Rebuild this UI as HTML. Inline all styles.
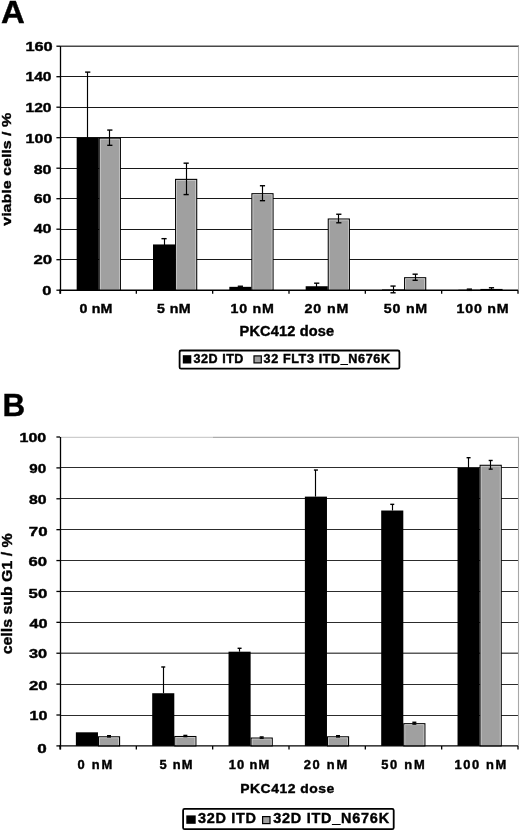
<!DOCTYPE html>
<html><head><meta charset="utf-8"><style>
html,body{margin:0;padding:0;background:#fff;}
body{width:520px;height:831px;overflow:hidden;}
svg{display:block;font-family:"Liberation Sans", sans-serif;}
text{stroke:#000;stroke-width:0.4px;paint-order:stroke;}
svg{filter:grayscale(1);}
</style></head><body>
<svg width="520" height="831" viewBox="0 0 520 831">
<rect width="520" height="831" fill="#fff"/>
<line x1="60" y1="259.5" x2="518" y2="259.5" stroke="#181818" stroke-width="1.15"/>
<line x1="60" y1="229.5" x2="518" y2="229.5" stroke="#181818" stroke-width="1.15"/>
<line x1="60" y1="198.5" x2="518" y2="198.5" stroke="#181818" stroke-width="1.15"/>
<line x1="60" y1="168.5" x2="518" y2="168.5" stroke="#181818" stroke-width="1.15"/>
<line x1="60" y1="137.5" x2="518" y2="137.5" stroke="#181818" stroke-width="1.15"/>
<line x1="60" y1="107.5" x2="518" y2="107.5" stroke="#181818" stroke-width="1.15"/>
<line x1="60" y1="76.5" x2="518" y2="76.5" stroke="#181818" stroke-width="1.15"/>
<line x1="60" y1="46.3" x2="519" y2="46.3" stroke="#484848" stroke-width="1.4"/>
<line x1="518.5" y1="46.3" x2="518.5" y2="290.2" stroke="#b4b4b4" stroke-width="1.1"/>
<rect x="76.67" y="137.7" width="22.1" height="152.5" fill="#000"/>
<rect x="99.27" y="138.2" width="21.1" height="152" fill="#a0a0a0" stroke="#000" stroke-width="1.1"/>
<rect x="100.27" y="139.2" width="19.1" height="150.5" fill="none" stroke="#cfcfcf" stroke-width="0.8"/>
<line x1="87.5" y1="72.12" x2="87.5" y2="137.7" stroke="#000" stroke-width="1.15"/>
<line x1="85.12" y1="72.12" x2="90.32" y2="72.12" stroke="#000" stroke-width="1.4"/>
<line x1="109.5" y1="130.07" x2="109.5" y2="145.32" stroke="#000" stroke-width="1.15"/>
<line x1="107.22" y1="130.07" x2="112.42" y2="130.07" stroke="#000" stroke-width="1.4"/>
<line x1="107.22" y1="145.32" x2="112.42" y2="145.32" stroke="#000" stroke-width="1.4"/>
<rect x="153" y="244.45" width="22.1" height="45.75" fill="#000"/>
<rect x="175.6" y="179.38" width="21.1" height="110.82" fill="#a0a0a0" stroke="#000" stroke-width="1.1"/>
<rect x="176.6" y="180.38" width="19.1" height="109.32" fill="none" stroke="#cfcfcf" stroke-width="0.8"/>
<line x1="164.5" y1="238.66" x2="164.5" y2="250.25" stroke="#000" stroke-width="1.15"/>
<line x1="161.45" y1="238.66" x2="166.65" y2="238.66" stroke="#000" stroke-width="1.4"/>
<line x1="161.45" y1="250.25" x2="166.65" y2="250.25" stroke="#000" stroke-width="1.4"/>
<line x1="186.5" y1="163.17" x2="186.5" y2="194.58" stroke="#000" stroke-width="1.15"/>
<line x1="183.55" y1="163.17" x2="188.75" y2="163.17" stroke="#000" stroke-width="1.4"/>
<line x1="183.55" y1="194.58" x2="188.75" y2="194.58" stroke="#000" stroke-width="1.4"/>
<rect x="229.33" y="286.84" width="22.1" height="3.36" fill="#000"/>
<rect x="251.93" y="193.71" width="21.1" height="96.49" fill="#a0a0a0" stroke="#000" stroke-width="1.1"/>
<rect x="252.93" y="194.71" width="19.1" height="94.99" fill="none" stroke="#cfcfcf" stroke-width="0.8"/>
<line x1="240.5" y1="286.24" x2="240.5" y2="287.45" stroke="#000" stroke-width="1.15"/>
<line x1="237.78" y1="286.24" x2="242.98" y2="286.24" stroke="#000" stroke-width="1.4"/>
<line x1="237.78" y1="287.45" x2="242.98" y2="287.45" stroke="#000" stroke-width="1.4"/>
<line x1="262.5" y1="185.74" x2="262.5" y2="200.68" stroke="#000" stroke-width="1.15"/>
<line x1="259.88" y1="185.74" x2="265.08" y2="185.74" stroke="#000" stroke-width="1.4"/>
<line x1="259.88" y1="200.68" x2="265.08" y2="200.68" stroke="#000" stroke-width="1.4"/>
<rect x="305.67" y="286.24" width="22.1" height="3.96" fill="#000"/>
<rect x="328.27" y="219.02" width="21.1" height="71.18" fill="#a0a0a0" stroke="#000" stroke-width="1.1"/>
<rect x="329.27" y="220.02" width="19.1" height="69.68" fill="none" stroke="#cfcfcf" stroke-width="0.8"/>
<line x1="316.5" y1="283.19" x2="316.5" y2="289.28" stroke="#000" stroke-width="1.15"/>
<line x1="314.12" y1="283.19" x2="319.32" y2="283.19" stroke="#000" stroke-width="1.4"/>
<line x1="314.12" y1="289.28" x2="319.32" y2="289.28" stroke="#000" stroke-width="1.4"/>
<line x1="338.5" y1="214.25" x2="338.5" y2="222.79" stroke="#000" stroke-width="1.15"/>
<line x1="336.22" y1="214.25" x2="341.42" y2="214.25" stroke="#000" stroke-width="1.4"/>
<line x1="336.22" y1="222.79" x2="341.42" y2="222.79" stroke="#000" stroke-width="1.4"/>
<rect x="382" y="289.44" width="22.1" height="0.76" fill="#000"/>
<rect x="404.6" y="277.74" width="21.1" height="12.46" fill="#a0a0a0" stroke="#000" stroke-width="1.1"/>
<rect x="405.6" y="278.74" width="19.1" height="10.96" fill="none" stroke="#cfcfcf" stroke-width="0.8"/>
<line x1="393.5" y1="286.08" x2="393.5" y2="292.79" stroke="#000" stroke-width="1.15"/>
<line x1="390.45" y1="286.08" x2="395.65" y2="286.08" stroke="#000" stroke-width="1.4"/>
<line x1="390.45" y1="292.79" x2="395.65" y2="292.79" stroke="#000" stroke-width="1.4"/>
<line x1="415.5" y1="274.19" x2="415.5" y2="280.29" stroke="#000" stroke-width="1.15"/>
<line x1="412.55" y1="274.19" x2="417.75" y2="274.19" stroke="#000" stroke-width="1.4"/>
<line x1="412.55" y1="280.29" x2="417.75" y2="280.29" stroke="#000" stroke-width="1.4"/>
<rect x="458.33" y="289.74" width="22.1" height="0.46" fill="#000"/>
<rect x="480.93" y="289.48" width="21.1" height="0.72" fill="#a0a0a0" stroke="#000" stroke-width="1.1"/>
<rect x="481.93" y="290.48" width="19.1" height="0" fill="none" stroke="#cfcfcf" stroke-width="0.8"/>
<line x1="469.5" y1="289.13" x2="469.5" y2="290.35" stroke="#000" stroke-width="1.15"/>
<line x1="466.78" y1="289.13" x2="471.98" y2="289.13" stroke="#000" stroke-width="1.4"/>
<line x1="466.78" y1="290.35" x2="471.98" y2="290.35" stroke="#000" stroke-width="1.4"/>
<line x1="491.5" y1="287.76" x2="491.5" y2="290.2" stroke="#000" stroke-width="1.15"/>
<line x1="488.88" y1="287.76" x2="494.08" y2="287.76" stroke="#000" stroke-width="1.4"/>
<line x1="488.88" y1="290.2" x2="494.08" y2="290.2" stroke="#000" stroke-width="1.4"/>
<line x1="60.5" y1="46.2" x2="60.5" y2="293.7" stroke="#000" stroke-width="1.3"/>
<line x1="59.3" y1="290.2" x2="518" y2="290.2" stroke="#000" stroke-width="1.4"/>
<line x1="56.4" y1="290.2" x2="60" y2="290.2" stroke="#000" stroke-width="1.3"/>
<line x1="56.4" y1="259.7" x2="60" y2="259.7" stroke="#000" stroke-width="1.3"/>
<line x1="56.4" y1="229.2" x2="60" y2="229.2" stroke="#000" stroke-width="1.3"/>
<line x1="56.4" y1="198.7" x2="60" y2="198.7" stroke="#000" stroke-width="1.3"/>
<line x1="56.4" y1="168.2" x2="60" y2="168.2" stroke="#000" stroke-width="1.3"/>
<line x1="56.4" y1="137.7" x2="60" y2="137.7" stroke="#000" stroke-width="1.3"/>
<line x1="56.4" y1="107.2" x2="60" y2="107.2" stroke="#000" stroke-width="1.3"/>
<line x1="56.4" y1="76.7" x2="60" y2="76.7" stroke="#000" stroke-width="1.3"/>
<line x1="56.4" y1="46.2" x2="60" y2="46.2" stroke="#000" stroke-width="1.3"/>
<line x1="60" y1="290.2" x2="60" y2="293.7" stroke="#000" stroke-width="1.3"/>
<line x1="136.33" y1="290.2" x2="136.33" y2="293.7" stroke="#000" stroke-width="1.3"/>
<line x1="212.67" y1="290.2" x2="212.67" y2="293.7" stroke="#000" stroke-width="1.3"/>
<line x1="289" y1="290.2" x2="289" y2="293.7" stroke="#000" stroke-width="1.3"/>
<line x1="365.33" y1="290.2" x2="365.33" y2="293.7" stroke="#000" stroke-width="1.3"/>
<line x1="441.67" y1="290.2" x2="441.67" y2="293.7" stroke="#000" stroke-width="1.3"/>
<line x1="518" y1="290.2" x2="518" y2="293.7" stroke="#000" stroke-width="1.3"/>
<line x1="60" y1="715.5" x2="518" y2="715.5" stroke="#2c2c2c" stroke-width="1.15"/>
<line x1="60" y1="684.5" x2="518" y2="684.5" stroke="#2c2c2c" stroke-width="1.15"/>
<line x1="60" y1="653.2" x2="518" y2="653.2" stroke="#5a5a5a" stroke-width="1.6"/>
<line x1="60" y1="622.5" x2="518" y2="622.5" stroke="#2c2c2c" stroke-width="1.15"/>
<line x1="60" y1="591.5" x2="518" y2="591.5" stroke="#2c2c2c" stroke-width="1.15"/>
<line x1="60" y1="560.5" x2="518" y2="560.5" stroke="#2c2c2c" stroke-width="1.15"/>
<line x1="60" y1="529.5" x2="518" y2="529.5" stroke="#2c2c2c" stroke-width="1.15"/>
<line x1="60" y1="498.5" x2="518" y2="498.5" stroke="#2c2c2c" stroke-width="1.15"/>
<line x1="60" y1="467.5" x2="518" y2="467.5" stroke="#2c2c2c" stroke-width="1.15"/>
<line x1="60" y1="437.4" x2="213" y2="437.4" stroke="#cdcdcd" stroke-width="1.2"/>
<line x1="213" y1="437.4" x2="519" y2="437.4" stroke="#acacac" stroke-width="1.2"/>
<line x1="518.5" y1="437.4" x2="518.5" y2="745.9" stroke="#a8a8a8" stroke-width="1.1"/>
<rect x="75.87" y="732.31" width="22.1" height="13.59" fill="#000"/>
<rect x="98.47" y="736.82" width="21.1" height="9.08" fill="#a0a0a0" stroke="#000" stroke-width="1.1"/>
<rect x="99.47" y="737.82" width="19.1" height="7.58" fill="none" stroke="#cfcfcf" stroke-width="0.8"/>
<line x1="109.5" y1="735.71" x2="109.5" y2="736.94" stroke="#000" stroke-width="1.15"/>
<line x1="107.02" y1="735.71" x2="111.02" y2="735.71" stroke="#000" stroke-width="1.4"/>
<line x1="107.02" y1="736.94" x2="111.02" y2="736.94" stroke="#000" stroke-width="1.4"/>
<rect x="152.2" y="693.23" width="22.1" height="52.67" fill="#000"/>
<rect x="174.8" y="736.52" width="21.1" height="9.38" fill="#a0a0a0" stroke="#000" stroke-width="1.1"/>
<rect x="175.8" y="737.52" width="19.1" height="7.88" fill="none" stroke="#cfcfcf" stroke-width="0.8"/>
<line x1="163.5" y1="666.98" x2="163.5" y2="693.23" stroke="#000" stroke-width="1.15"/>
<line x1="161.25" y1="666.98" x2="165.25" y2="666.98" stroke="#000" stroke-width="1.4"/>
<line x1="185.5" y1="735.4" x2="185.5" y2="736.63" stroke="#000" stroke-width="1.15"/>
<line x1="183.35" y1="735.4" x2="187.35" y2="735.4" stroke="#000" stroke-width="1.4"/>
<line x1="183.35" y1="736.63" x2="187.35" y2="736.63" stroke="#000" stroke-width="1.4"/>
<rect x="228.53" y="651.69" width="22.1" height="94.21" fill="#000"/>
<rect x="251.13" y="738.06" width="21.1" height="7.84" fill="#a0a0a0" stroke="#000" stroke-width="1.1"/>
<rect x="252.13" y="739.06" width="19.1" height="6.34" fill="none" stroke="#cfcfcf" stroke-width="0.8"/>
<line x1="239.5" y1="648.29" x2="239.5" y2="651.69" stroke="#000" stroke-width="1.15"/>
<line x1="237.58" y1="648.29" x2="241.58" y2="648.29" stroke="#000" stroke-width="1.4"/>
<line x1="261.5" y1="736.94" x2="261.5" y2="738.18" stroke="#000" stroke-width="1.15"/>
<line x1="259.68" y1="736.94" x2="263.68" y2="736.94" stroke="#000" stroke-width="1.4"/>
<line x1="259.68" y1="738.18" x2="263.68" y2="738.18" stroke="#000" stroke-width="1.4"/>
<rect x="304.87" y="496.62" width="22.1" height="249.28" fill="#000"/>
<rect x="327.47" y="736.82" width="21.1" height="9.08" fill="#a0a0a0" stroke="#000" stroke-width="1.1"/>
<rect x="328.47" y="737.82" width="19.1" height="7.58" fill="none" stroke="#cfcfcf" stroke-width="0.8"/>
<line x1="315.5" y1="470.05" x2="315.5" y2="496.62" stroke="#000" stroke-width="1.15"/>
<line x1="313.92" y1="470.05" x2="317.92" y2="470.05" stroke="#000" stroke-width="1.4"/>
<line x1="338.5" y1="735.71" x2="338.5" y2="736.94" stroke="#000" stroke-width="1.15"/>
<line x1="336.02" y1="735.71" x2="340.02" y2="735.71" stroke="#000" stroke-width="1.4"/>
<line x1="336.02" y1="736.94" x2="340.02" y2="736.94" stroke="#000" stroke-width="1.4"/>
<rect x="381.2" y="510.52" width="22.1" height="235.38" fill="#000"/>
<rect x="403.8" y="723.7" width="21.1" height="22.2" fill="#a0a0a0" stroke="#000" stroke-width="1.1"/>
<rect x="404.8" y="724.7" width="19.1" height="20.7" fill="none" stroke="#cfcfcf" stroke-width="0.8"/>
<line x1="392.5" y1="504.34" x2="392.5" y2="510.52" stroke="#000" stroke-width="1.15"/>
<line x1="390.25" y1="504.34" x2="394.25" y2="504.34" stroke="#000" stroke-width="1.4"/>
<line x1="414.5" y1="722.27" x2="414.5" y2="724.12" stroke="#000" stroke-width="1.15"/>
<line x1="412.35" y1="722.27" x2="416.35" y2="722.27" stroke="#000" stroke-width="1.4"/>
<line x1="412.35" y1="724.12" x2="416.35" y2="724.12" stroke="#000" stroke-width="1.4"/>
<rect x="457.53" y="467.89" width="22.1" height="278.01" fill="#000"/>
<rect x="480.13" y="465.3" width="21.1" height="280.6" fill="#a0a0a0" stroke="#000" stroke-width="1.1"/>
<rect x="481.13" y="466.3" width="19.1" height="279.1" fill="none" stroke="#cfcfcf" stroke-width="0.8"/>
<line x1="468.5" y1="457.7" x2="468.5" y2="467.89" stroke="#000" stroke-width="1.15"/>
<line x1="466.58" y1="457.7" x2="470.58" y2="457.7" stroke="#000" stroke-width="1.4"/>
<line x1="490.5" y1="460.48" x2="490.5" y2="469.13" stroke="#000" stroke-width="1.15"/>
<line x1="488.68" y1="460.48" x2="492.68" y2="460.48" stroke="#000" stroke-width="1.4"/>
<line x1="488.68" y1="469.13" x2="492.68" y2="469.13" stroke="#000" stroke-width="1.4"/>
<line x1="60.5" y1="437" x2="60.5" y2="749.4" stroke="#000" stroke-width="1.3"/>
<line x1="59.3" y1="745.9" x2="518" y2="745.9" stroke="#000" stroke-width="1.4"/>
<line x1="56.4" y1="745.9" x2="60" y2="745.9" stroke="#000" stroke-width="1.3"/>
<line x1="56.4" y1="715.01" x2="60" y2="715.01" stroke="#000" stroke-width="1.3"/>
<line x1="56.4" y1="684.12" x2="60" y2="684.12" stroke="#000" stroke-width="1.3"/>
<line x1="56.4" y1="653.23" x2="60" y2="653.23" stroke="#000" stroke-width="1.3"/>
<line x1="56.4" y1="622.34" x2="60" y2="622.34" stroke="#000" stroke-width="1.3"/>
<line x1="56.4" y1="591.45" x2="60" y2="591.45" stroke="#000" stroke-width="1.3"/>
<line x1="56.4" y1="560.56" x2="60" y2="560.56" stroke="#000" stroke-width="1.3"/>
<line x1="56.4" y1="529.67" x2="60" y2="529.67" stroke="#000" stroke-width="1.3"/>
<line x1="56.4" y1="498.78" x2="60" y2="498.78" stroke="#000" stroke-width="1.3"/>
<line x1="56.4" y1="467.89" x2="60" y2="467.89" stroke="#000" stroke-width="1.3"/>
<line x1="56.4" y1="437" x2="60" y2="437" stroke="#000" stroke-width="1.3"/>
<line x1="60" y1="745.9" x2="60" y2="749.4" stroke="#000" stroke-width="1.3"/>
<line x1="136.33" y1="745.9" x2="136.33" y2="749.4" stroke="#000" stroke-width="1.3"/>
<line x1="212.67" y1="745.9" x2="212.67" y2="749.4" stroke="#000" stroke-width="1.3"/>
<line x1="289" y1="745.9" x2="289" y2="749.4" stroke="#000" stroke-width="1.3"/>
<line x1="365.33" y1="745.9" x2="365.33" y2="749.4" stroke="#000" stroke-width="1.3"/>
<line x1="441.67" y1="745.9" x2="441.67" y2="749.4" stroke="#000" stroke-width="1.3"/>
<line x1="518" y1="745.9" x2="518" y2="749.4" stroke="#000" stroke-width="1.3"/>
<rect x="179.6" y="350.5" width="219.8" height="18.2" rx="1.5" fill="#fff" stroke="#000" stroke-width="1.8"/>
<rect x="182.8" y="355.2" width="8.5" height="8.3" fill="#000"/>
<rect x="254" y="355.9" width="7.3" height="7" fill="#a0a0a0" stroke="#000" stroke-width="1.2"/>
<rect x="183.1" y="808.9" width="210.6" height="20.3" rx="1.5" fill="#fff" stroke="#000" stroke-width="1.8"/>
<rect x="186.3" y="815.4" width="9.4" height="8.4" fill="#000"/>
<rect x="262.6" y="816.6" width="7.4" height="7" fill="#a0a0a0" stroke="#000" stroke-width="1.2"/>
<text x="1" y="23" font-size="30.56" font-weight="bold" textLength="23.76" lengthAdjust="spacingAndGlyphs">A</text>
<text x="25.4" y="50.5" font-size="13.5" font-weight="bold" textLength="27.35" lengthAdjust="spacingAndGlyphs">160</text>
<text x="25.5" y="80.7" font-size="13.5" font-weight="bold" textLength="26" lengthAdjust="spacingAndGlyphs">140</text>
<text x="25.5" y="112.3" font-size="13.5" font-weight="bold" textLength="26" lengthAdjust="spacingAndGlyphs">120</text>
<text x="25.6" y="143" font-size="13.5" font-weight="bold" textLength="26.83" lengthAdjust="spacingAndGlyphs">100</text>
<text x="33.7" y="174" font-size="13.5" font-weight="bold" textLength="17.8" lengthAdjust="spacingAndGlyphs">80</text>
<text x="33.7" y="203.1" font-size="13.5" font-weight="bold" textLength="17.8" lengthAdjust="spacingAndGlyphs">60</text>
<text x="33.7" y="233.2" font-size="13.5" font-weight="bold" textLength="17.8" lengthAdjust="spacingAndGlyphs">40</text>
<text x="33.4" y="264.2" font-size="13.5" font-weight="bold" textLength="18.64" lengthAdjust="spacingAndGlyphs">20</text>
<text x="42.3" y="295.2" font-size="13.5" font-weight="bold" textLength="9.17" lengthAdjust="spacingAndGlyphs">0</text>
<text transform="translate(11.48,225.75) rotate(-90)" x="0" y="0" font-size="13.11" font-weight="bold" textLength="113" lengthAdjust="spacingAndGlyphs">viable cells / %</text>
<text transform="translate(79.6,313) scale(1.04,1)" x="0" y="0" font-size="13.7" font-weight="bold" textLength="31.54" lengthAdjust="spacing">0 nM</text>
<text transform="translate(157,313) scale(1.04,1)" x="0" y="0" font-size="13.7" font-weight="bold" textLength="32.33" lengthAdjust="spacing">5 nM</text>
<text transform="translate(230.6,313) scale(1.04,1)" x="0" y="0" font-size="13.7" font-weight="bold" textLength="41.57" lengthAdjust="spacing">10 nM</text>
<text transform="translate(304.45,313) scale(1.04,1)" x="0" y="0" font-size="13.7" font-weight="bold" textLength="42.24" lengthAdjust="spacing">20 nM</text>
<text transform="translate(383.8,313) scale(1.04,1)" x="0" y="0" font-size="13.7" font-weight="bold" textLength="41.74" lengthAdjust="spacing">50 nM</text>
<text transform="translate(456.6,313) scale(1.04,1)" x="0" y="0" font-size="13.7" font-weight="bold" textLength="50.02" lengthAdjust="spacing">100 nM</text>
<text transform="translate(239.6,335.7) scale(1.04,1)" x="0" y="0" font-size="14" font-weight="bold" textLength="90.88" lengthAdjust="spacing">PKC412 dose</text>
<text transform="translate(193.6,362.5) scale(1.04,1)" x="0" y="0" font-size="12.1" font-weight="bold" textLength="47.88" lengthAdjust="spacing">32D ITD</text>
<text transform="translate(263.6,362.5) scale(1.04,1)" x="0" y="0" font-size="12.1" font-weight="bold" textLength="121.54" lengthAdjust="spacing">32 FLT3 ITD_N676K</text>
<text x="2.6" y="416" font-size="31.39" font-weight="bold" textLength="22.67" lengthAdjust="spacingAndGlyphs">B</text>
<text x="19.6" y="441.5" font-size="12.5" font-weight="bold" textLength="26.64" lengthAdjust="spacingAndGlyphs">100</text>
<text x="29.3" y="473" font-size="12.5" font-weight="bold" textLength="16.9" lengthAdjust="spacingAndGlyphs">90</text>
<text x="29.05" y="503.9" font-size="12.5" font-weight="bold" textLength="17.56" lengthAdjust="spacingAndGlyphs">80</text>
<text x="28.8" y="535.8" font-size="12.5" font-weight="bold" textLength="18.71" lengthAdjust="spacingAndGlyphs">70</text>
<text x="28.6" y="565.5" font-size="12.5" font-weight="bold" textLength="18.54" lengthAdjust="spacingAndGlyphs">60</text>
<text x="28.6" y="598.1" font-size="12.5" font-weight="bold" textLength="18.61" lengthAdjust="spacingAndGlyphs">50</text>
<text x="29.4" y="628.2" font-size="12.5" font-weight="bold" textLength="18.01" lengthAdjust="spacingAndGlyphs">40</text>
<text x="29" y="657.8" font-size="12.5" font-weight="bold" textLength="18.12" lengthAdjust="spacingAndGlyphs">30</text>
<text x="29" y="689.8" font-size="12.5" font-weight="bold" textLength="18.43" lengthAdjust="spacingAndGlyphs">20</text>
<text x="29.6" y="720.4" font-size="12.5" font-weight="bold" textLength="17.85" lengthAdjust="spacingAndGlyphs">10</text>
<text x="37.2" y="753.1" font-size="12.5" font-weight="bold" textLength="9.46" lengthAdjust="spacingAndGlyphs">0</text>
<text transform="translate(12.29,654.35) rotate(-90)" x="0" y="0" font-size="14.98" font-weight="bold" textLength="120.96" lengthAdjust="spacingAndGlyphs">cells sub G1 / %</text>
<text transform="translate(77.4,769.1) scale(1.04,1)" x="0" y="0" font-size="12.4" font-weight="bold" textLength="33.59" lengthAdjust="spacing">0 nM</text>
<text transform="translate(159.6,768.7) scale(1.04,1)" x="0" y="0" font-size="12.4" font-weight="bold" textLength="31.63" lengthAdjust="spacing">5 nM</text>
<text transform="translate(228.8,768.7) scale(1.04,1)" x="0" y="0" font-size="12.4" font-weight="bold" textLength="38.85" lengthAdjust="spacing">10 nM</text>
<text transform="translate(303.7,768.55) scale(1.04,1)" x="0" y="0" font-size="12.4" font-weight="bold" textLength="41.82" lengthAdjust="spacing">20 nM</text>
<text transform="translate(381.2,768.7) scale(1.04,1)" x="0" y="0" font-size="12.4" font-weight="bold" textLength="41.84" lengthAdjust="spacing">50 nM</text>
<text transform="translate(454.6,768.8) scale(1.04,1)" x="0" y="0" font-size="12.4" font-weight="bold" textLength="49.65" lengthAdjust="spacing">100 nM</text>
<text transform="translate(240.3,793.3) scale(1.04,1)" x="0" y="0" font-size="13.4" font-weight="bold" textLength="90.3" lengthAdjust="spacing">PKC412 dose</text>
<text transform="translate(197.9,823) scale(1.04,1)" x="0" y="0" font-size="13.9" font-weight="bold" textLength="55.87" lengthAdjust="spacing">32D ITD</text>
<text transform="translate(273.15,823.25) scale(1.04,1)" x="0" y="0" font-size="13.9" font-weight="bold" textLength="111.5" lengthAdjust="spacing">32D ITD_N676K</text>
</svg>
</body></html>
